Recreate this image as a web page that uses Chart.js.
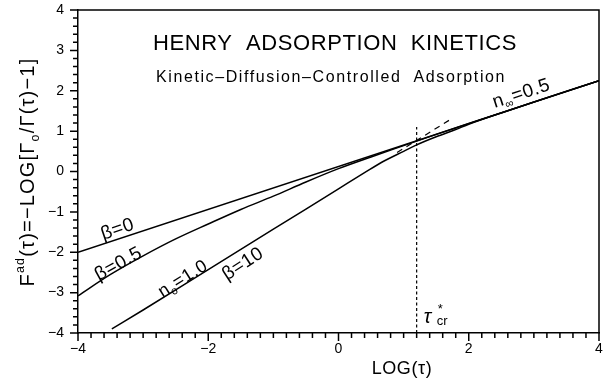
<!DOCTYPE html>
<html lang="en">
<head>
<meta charset="UTF-8" />
<title>Henry Adsorption Kinetics</title>
<script src="https://cdn.jsdelivr.net/npm/chart.js"></script>
<style>
  html, body { margin: 0; padding: 0; background: #fff; }
</style>
</head>
<body>
<canvas id="kinetics" width="606" height="383"></canvas>
<script>
// LOG(tau) -> F_ad(tau) for each curve
const beta0X = [-4, 4];
const beta0Y = [-2.0, 2.25];

const beta05X = [-4, -3.5, -3, -2.5, -2, -1.5, -1, -0.5, 0, 0.5, 1, 1.5, 2, 4];
const beta05Y = [-3.08, -2.55, -2.09, -1.67, -1.30, -0.94, -0.61, -0.26, 0.07, 0.36, 0.64, 0.92, 1.19, 2.25];

const beta10X = [-3.48, -3, -2, -1, 0, 0.4, 0.7, 1.0, 1.2, 1.5, 1.8, 2.0, 2.5, 3, 4];
const beta10Y = [-3.9, -3.43, -2.43, -1.43, -0.43, -0.03, 0.26, 0.50, 0.66, 0.86, 1.04, 1.17, 1.45, 1.72, 2.25];

// slope-1 asymptote around the crossover
const asymX = [0.9, 1.7];
const asymY = [0.47, 1.27];

// critical time tau*_cr
const tauCrX = [1.2, 1.2];
const tauCrY = [-4, 1.1];

const xTickLabels = [-4, -2, 0, 2, 4];
const yTickLabels = [-4, -3, -2, -1, 0, 1, 2, 3, 4];
const minorStep = 0.2;

const FONT = '"Liberation Sans", Arial, sans-serif';

function pts(xs, ys) {
  return xs.map((x, i) => ({ x: x, y: ys[i] }));
}

function minus(v) {
  return v < 0 ? '\u2212' + Math.abs(v) : String(v);
}

// draws text made of normal / superscript / subscript pieces
function richText(ctx, parts, x, y, angle, size, spacing) {
  ctx.save();
  ctx.translate(x, y);
  ctx.rotate(angle * Math.PI / 180);
  ctx.letterSpacing = (spacing || 0) + 'px';
  ctx.textBaseline = 'alphabetic';
  ctx.textAlign = 'left';
  let widths = parts.map(p => {
    const s = (p.sup || p.sub) ? size * 0.62 : size;
    ctx.font = s + 'px ' + FONT;
    return ctx.measureText(p.t).width;
  });
  const total = widths.reduce((a, b) => a + b, 0);
  let cx = -total / 2;
  parts.forEach((p, i) => {
    const s = (p.sup || p.sub) ? size * 0.62 : size;
    ctx.font = s + 'px ' + FONT;
    let dy = size * 0.36;
    if (p.sup) dy -= size * 0.5;
    if (p.sub) dy += size * 0.22;
    ctx.fillText(p.t, cx, dy);
    cx += widths[i];
  });
  ctx.restore();
}

const curveLabels = [
  { parts: [{ t: '\u03B2=0' }], x: -3.4, y: -1.40, angle: -19, size: 19 },
  { parts: [{ t: '\u03B2=0.5' }], x: -3.39, y: -2.26, angle: -29, size: 19 },
  { parts: [{ t: 'n' }, { t: 'o', sub: true }, { t: '=1.0' }], x: -2.40, y: -2.63, angle: -32, size: 18 },
  { parts: [{ t: '\u03B2=10' }], x: -1.48, y: -2.26, angle: -33, size: 19 },
  { parts: [{ t: 'n' }, { t: '\u221E', sub: true }, { t: '=0.5' }], x: 2.80, y: 1.96, angle: -18, size: 19 }
];

const decorations = {
  id: 'decorations',
  afterDraw(chart) {
    const ctx = chart.ctx;
    const a = chart.chartArea;
    const xs = chart.scales.x;
    const ys = chart.scales.y;
    ctx.save();
    ctx.strokeStyle = '#000';
    ctx.fillStyle = '#000';

    // top and right frame
    ctx.lineWidth = 1.5;
    ctx.beginPath();
    ctx.moveTo(a.left, a.top);
    ctx.lineTo(a.right, a.top);
    ctx.lineTo(a.right, a.bottom);
    ctx.stroke();

    // tick marks every 0.2, longer at the whole numbers that carry labels
    ctx.lineWidth = 1.5;
    ctx.beginPath();
    const n = Math.round(4 / minorStep);
    const perUnit = Math.round(1 / minorStep);
    for (let i = -n; i <= n; i++) {
      const v = i * minorStep;
      const whole = Math.round(v);
      const onWhole = Math.abs(i % perUnit) === 0;
      const px = xs.getPixelForValue(v);
      const xLen = (onWhole && xTickLabels.includes(whole)) ? 8 : 5;
      ctx.moveTo(px, a.bottom);
      ctx.lineTo(px, a.bottom + xLen);
      const py = ys.getPixelForValue(v);
      const yLen = (onWhole && yTickLabels.includes(whole)) ? 8 : 5;
      ctx.moveTo(a.left, py);
      ctx.lineTo(a.left - yLen, py);
    }
    ctx.stroke();

    // titles
    ctx.textAlign = 'center';
    ctx.textBaseline = 'alphabetic';
    ctx.letterSpacing = '0.6px';
    ctx.font = '22px ' + FONT;
    ctx.fillText('HENRY  ADSORPTION  KINETICS', 335, 50);
    ctx.letterSpacing = '1.6px';
    ctx.font = '16px ' + FONT;
    ctx.fillText('Kinetic\u2013Diffusion\u2013Controlled  Adsorption', 331, 82);

    // axis titles
    richText(ctx, [{ t: 'LOG(\u03C4)' }], 402, 368, 0, 18, 0.6);
    richText(ctx, [
      { t: 'F' }, { t: 'ad', sup: true }, { t: '(\u03C4)=\u2212LOG[\u0393' },
      { t: 'o', sub: true }, { t: '/\u0393(\u03C4)\u22121]' }
    ], 27, 172, -90, 20, 1.2);

    // curve labels
    curveLabels.forEach(l => {
      richText(ctx, l.parts, xs.getPixelForValue(l.x), ys.getPixelForValue(l.y), l.angle, l.size, 0.5);
    });

    // tau*_cr
    const tx = xs.getPixelForValue(tauCrX[0]);
    const ty = ys.getPixelForValue(-4);
    ctx.textAlign = 'left';
    ctx.letterSpacing = '0px';
    ctx.font = 'italic 20px ' + FONT;
    ctx.fillText('\u03C4', tx + 7, ty - 10);
    ctx.font = '13px ' + FONT;
    ctx.fillText('cr', tx + 20, ty - 8);
    ctx.fillText('*', tx + 21, ty - 20);
    ctx.restore();
  }
};

const lineStyle = {
  showLine: true,
  pointRadius: 0,
  borderColor: '#000',
  borderWidth: 1.5,
  fill: false
};

new Chart(document.getElementById('kinetics'), {
  type: 'scatter',
  data: {
    datasets: [
      { ...lineStyle, label: 'tau_cr', data: pts(tauCrX, tauCrY), borderWidth: 1.2, borderDash: [3, 2.5] },
      { ...lineStyle, label: 'asymptote', data: pts(asymX, asymY), borderWidth: 1.2, borderDash: [6, 5] },
      { ...lineStyle, label: 'beta=10', data: pts(beta10X, beta10Y), cubicInterpolationMode: 'monotone' },
      { ...lineStyle, label: 'beta=0.5', data: pts(beta05X, beta05Y), cubicInterpolationMode: 'monotone' },
      { ...lineStyle, label: 'beta=0', data: pts(beta0X, beta0Y) }
    ]
  },
  options: {
    responsive: false,
    animation: false,
    devicePixelRatio: 1,
    layout: { padding: { top: 10, right: 7, left: 0, bottom: 0 } },
    plugins: {
      legend: { display: false },
      tooltip: { enabled: false }
    },
    scales: {
      x: {
        type: 'linear',
        min: -4,
        max: 4,
        ticks: {
          stepSize: 2,
          autoSkip: false,
          maxRotation: 0,
          padding: 8,
          color: '#000',
          font: { family: FONT, size: 14 },
          callback: v => minus(v)
        },
        grid: { drawOnChartArea: false, drawTicks: false },
        border: { color: '#000', width: 1.5 },
        afterFit(s) { s.height = 50; s.paddingLeft = 0; s.paddingRight = 0; }
      },
      y: {
        type: 'linear',
        min: -4,
        max: 4,
        ticks: {
          stepSize: 1,
          autoSkip: false,
          padding: 14,
          color: '#000',
          font: { family: FONT, size: 14 },
          callback: v => minus(v)
        },
        grid: { drawOnChartArea: false, drawTicks: false },
        border: { color: '#000', width: 1.5 },
        afterFit(s) { s.width = 78; s.paddingTop = 0; s.paddingBottom = 0; }
      }
    }
  },
  plugins: [decorations]
});
</script>
</body>
</html>
